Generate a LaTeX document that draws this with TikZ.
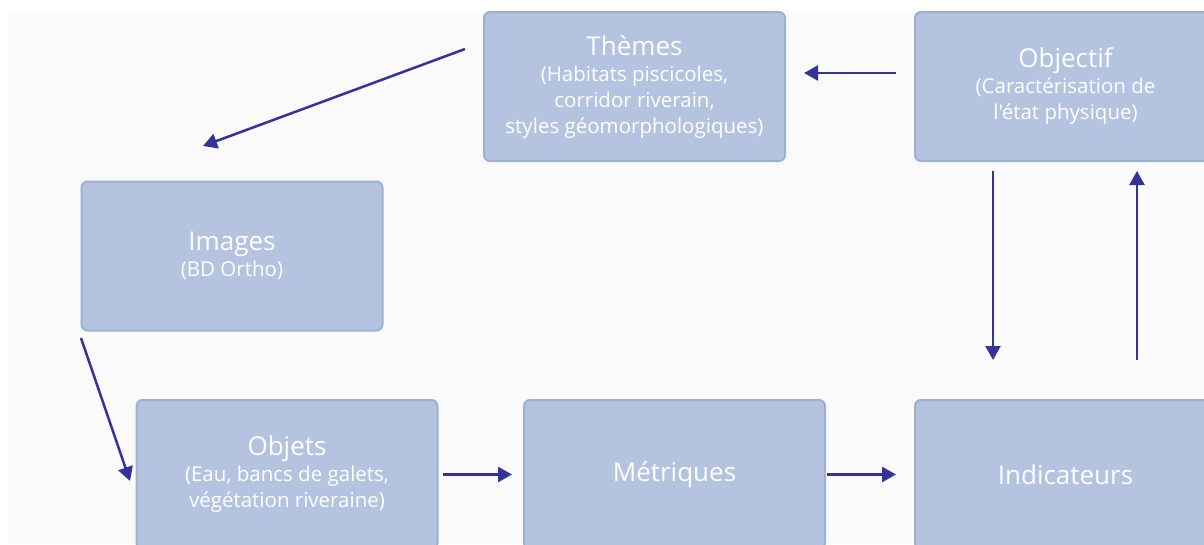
\documentclass[tikz,border=0pt]{standalone}
\usepackage{fontspec}
\setmainfont{Open Sans}[Ligatures=TeXOff]
\usepackage{tikz}
\usetikzlibrary{arrows.meta}
\definecolor{boxfill}{RGB}{179,195,224}
\definecolor{boxline}{RGB}{157,177,207}
\definecolor{arrowblue}{RGB}{51,51,153}
\definecolor{backgray}{RGB}{250,250,250}
\newcommand{\boxtitle}[1]{{\fontsize{26}{26}\selectfont #1}}

\begin{document}
\begin{tikzpicture}[x=1pt,y=-1pt,
    stage/.style={draw=boxline,line width=2pt,fill=boxfill,rounded corners=6pt,
        minimum width=301pt,minimum height=149pt,inner sep=0pt,align=center,
        text=white,font=\fontsize{20.5}{26}\selectfont},
    flow/.style={draw=arrowblue,line width=2.5pt,
        -{Triangle[length=14pt,width=15pt]}}]
                % Frame
                \useasboundingbox (0,0) rectangle (1204,544);
                \clip (0,0) rectangle (1204,544);
                \fill[backgray] (8,11) rectangle (1204,544);

                % Boxes
                \node[stage] (themes) at (634.5,86.5)
                    {\boxtitle{Thèmes}\\(Habitats piscicoles,\\corridor riverain,\\styles géomorphologiques)};
                \node[stage] (objectif) at (1065.5,86.5)
                    {\boxtitle{Objectif}\\(Caractérisation de\\l'état physique)};
                \node[stage] (images) at (232,256)
                    {\boxtitle{Images}\\(BD Ortho)};
                \node[stage] (objets) at (287,474.5)
                    {\boxtitle{Objets}\\(Eau, bancs de galets,\\végétation riveraine)};
                \node[stage] (metriques) at (674.5,474.5) {\boxtitle{Métriques}};
                \node[stage] (indicateurs) at (1065.5,474.5) {\boxtitle{Indicateurs}};

                % Free ends
                \coordinate (themesout) at (465,49);
                \coordinate (imagesin) at (203,146);
                \coordinate (imagesout) at (81,338);
                \coordinate (objetsin) at (130,481);

                % Arrows
                \draw[flow] (themesout) -- (imagesin);
                \draw[flow] (imagesout) -- (objetsin);
                \draw[flow,shorten <=18pt,shorten >=18pt]
                    ([yshift=13.5pt]objectif.west) -- ([yshift=13.5pt]themes.east);
                \draw[flow,shorten <=4pt,shorten >=11pt] (objets.east) -- (metriques.west);
                \draw[flow,shorten <=1pt,shorten >=18pt] (metriques.east) -- (indicateurs.west);
                \draw[flow,shorten <=9pt,shorten >=39pt]
                    ([xshift=-72.5pt]objectif.south) -- ([xshift=-72.5pt]indicateurs.north);
                \draw[flow,shorten <=39pt,shorten >=9pt]
                    ([xshift=71.5pt]indicateurs.north) -- ([xshift=71.5pt]objectif.south);
            \end{tikzpicture}
\end{document}
